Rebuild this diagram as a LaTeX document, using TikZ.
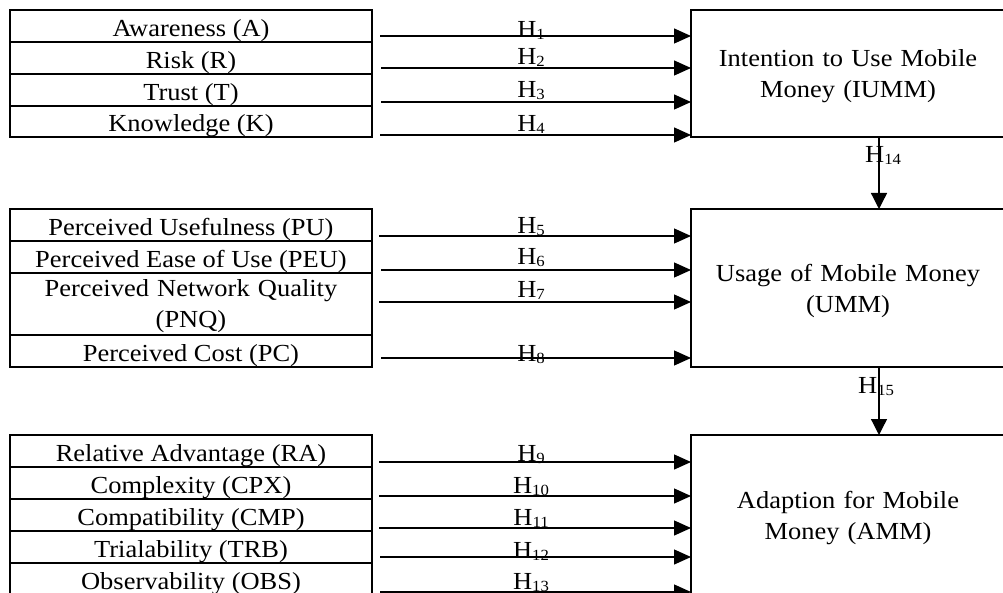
\documentclass[tikz,border=0pt]{standalone}
\usepackage{fontspec}
\setmainfont{Liberation Serif}[FakeStretch=1.08]
\usetikzlibrary{arrows.meta}

% hypothesis label: H with a small, slightly lowered index
\newcommand\hsub[1]{H\raisebox{-2pt}{\fontsize{15.5}{15.5}\selectfont #1}}

\tikzset{
  row/.style={draw, line width=2pt, minimum width=362pt, minimum height=32pt,
    inner sep=0pt, outer sep=0pt, text height=21pt, text depth=0pt},
  tallrow/.style={row, text width=340pt, align=center},
  bigbox/.style={minimum width=314pt, inner sep=0pt, outer sep=0pt,
    text width=300pt, align=center, text height=21pt},
  boxline/.style={draw, line width=2pt},
  arr/.style={line width=1.3pt, -{Triangle[length=17pt,width=15pt]}},
  varr/.style={line width=1.3pt, -{Triangle[length=16pt,width=16pt]}},
  lab/.style={anchor=base, inner sep=0pt},
}

\begin{document}
\begin{tikzpicture}[x=1pt, y=-1pt, font=\fontsize{24.5}{31}\selectfont]
\useasboundingbox (0,0) rectangle (1003,593);
\clip (0,0) rectangle (1003,593);

% ---- predictor tables ----
\node[row] (aw)  at (191,26)  {Awareness (A)};
\node[row] (ri)  at (191,58)  {Risk (R)};
\node[row] (tr)  at (191,90)  {Trust (T)};
\node[row, minimum height=31pt] (kn) at (191,121.5) {Knowledge (K)};

\node[row] (pu)  at (191,225) {Perceived Usefulness (PU)};
\node[row] (peu) at (191,257) {Perceived Ease of Use (PEU)};
\node[tallrow, minimum height=62pt, text depth=35pt] (pnq) at (191,304)
  {Perceived Network Quality\\(PNQ)};
\node[row] (pc)  at (191,351) {Perceived Cost (PC)};

\node[row] (ra)  at (191,451) {Relative Advantage (RA)};
\node[row] (cpx) at (191,483) {Complexity (CPX)};
\node[row] (cmp) at (191,515) {Compatibility (CMP)};
\node[row] (trb) at (191,547) {Trialability (TRB)};
\node[row] (obs) at (191,579) {Observability (OBS)};

% ---- outcome boxes (they run on past the right edge) ----
\node[bigbox, minimum height=127pt, text depth=34pt] (iumm) at (848,73.5)
  {Intention to Use Mobile\\Money (IUMM)};
\node[bigbox, minimum height=158pt, text depth=33pt] (umm) at (848,288)
  {Usage of Mobile Money\\(UMM)};
\node[bigbox, minimum height=165pt, text depth=40pt] (amm) at (848,517.5)
  {Adaption for Mobile\\Money (AMM)};
\draw[boxline] (iumm.north west) rectangle ([xshift=80pt]iumm.south east);
\draw[boxline] (umm.north west) rectangle ([xshift=80pt]umm.south east);
\draw[boxline] (amm.north west) rectangle ([xshift=80pt]amm.south east);

% ---- hypothesis arrows ----
\coordinate (s1) at (380,36);
\coordinate (s2) at (381,68);
\coordinate (s3) at (381,102);
\coordinate (s4) at (380,135);
\foreach \s in {s1,s2,s3,s4} \draw[arr] (\s) -- (\s -| iumm.west);

\coordinate (s5) at (379,236);
\coordinate (s6) at (381,270);
\coordinate (s7) at (379,302);
\coordinate (s8) at (381,358);
\foreach \s in {s5,s6,s7,s8} \draw[arr] (\s) -- (\s -| umm.west);

\coordinate (s9)  at (379,462);
\coordinate (s10) at (379,496);
\coordinate (s11) at (379,528);
\coordinate (s12) at (380,557);
\coordinate (s13) at (380,592);
\foreach \s in {s9,s10,s11,s12,s13} \draw[arr] (\s) -- (\s -| amm.west);

\node[lab] (h1)  at (531,38)  {\hsub{1}};
\node[lab] (h2)  at (531,65)  {\hsub{2}};
\node[lab] (h3)  at (531,98)  {\hsub{3}};
\node[lab] (h4)  at (531,132) {\hsub{4}};
\node[lab] (h5)  at (531,234) {\hsub{5}};
\node[lab] (h6)  at (531,265) {\hsub{6}};
\node[lab] (h7)  at (531,298) {\hsub{7}};
\node[lab] (h8)  at (531,361) {\hsub{8}};
\node[lab] (h9)  at (531,461) {\hsub{9}};
\node[lab] (h10) at (531,493) {\hsub{10}};
\node[lab] (h11) at (531,525) {\hsub{11}};
\node[lab] (h12) at (531,558) {\hsub{12}};
\node[lab] (h13) at (531,589) {\hsub{13}};

% ---- links between the outcome boxes ----
\coordinate (vx) at (879,0);
\draw[varr] (vx |- iumm.south) -- (vx |- umm.north);
\draw[varr] (vx |- umm.south) -- (vx |- amm.north);
\node[anchor=base west, inner sep=0pt] (h14) at (865,163) {\hsub{14}};
\node[anchor=base west, inner sep=0pt] (h15) at (858,393) {\hsub{15}};
\end{tikzpicture}
\end{document}
